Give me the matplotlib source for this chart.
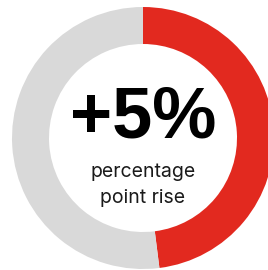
import matplotlib
matplotlib.use("Agg")
import matplotlib.pyplot as plt

# share of the ring
labels = ["rise", "rest"]
values = [48, 52]
colors = ["#E2291F", "#D9D9D9"]

headline = "+5%"
sublines = ["percentage", "point rise"]

fig = plt.figure(figsize=(2.68, 2.70), dpi=100)
ax = fig.add_axes([0, 0, 1, 1])

ax.pie(values, colors=colors, startangle=90, counterclock=False,
       center=(143, 132), radius=131, frame=True,
       wedgeprops=dict(width=37, linewidth=0))
ax.set_xlim(0, 268)
ax.set_ylim(0, 270)
ax.axis("off")

ax.text(143.5, 132, headline, ha="center", va="baseline", fontsize=52,
        fontweight="bold", family="Liberation Sans", color="black")
for i, s in enumerate(sublines):
    ax.text(143, 93 - i * 26, s, ha="center", va="baseline", fontsize=14,
            family="Inter", color="#1a1a1a")

fig.savefig("out.png", dpi=100)
